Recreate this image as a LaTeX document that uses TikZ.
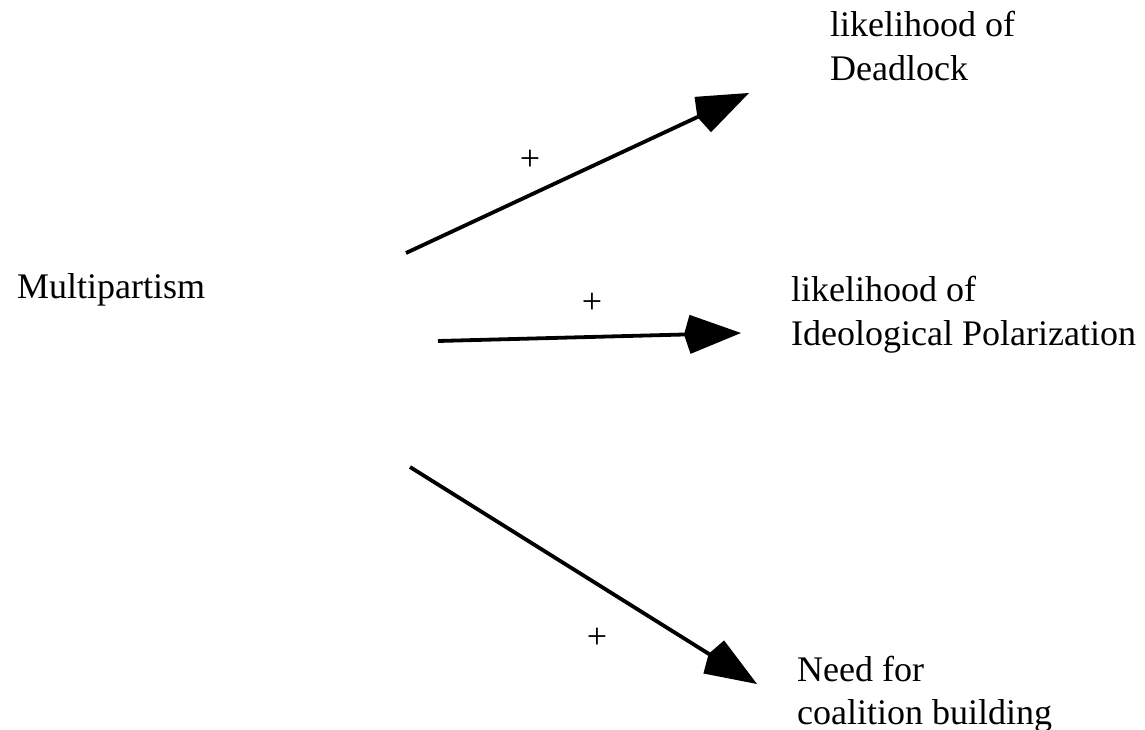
\documentclass[tikz,border=0pt]{standalone}
\usepackage{fontspec}
\setmainfont{Liberation Serif}
\usetikzlibrary{arrows.meta}
\tikzset{
  lbl/.style={anchor=base west, inner sep=0pt, align=left, font=\fontsize{36}{44}\selectfont},
  sign/.style={inner sep=0pt, font=\fontsize{36}{44}\selectfont},
  link/.style={line width=3.8pt, -{Kite[length=57pt, width=39pt, inset=6pt]}}
}
\begin{document}
\begin{tikzpicture}[x=1pt, y=-1pt]
\useasboundingbox (0,0) rectangle (1145,730);
\node[lbl] (multi) at (17,298) {Multipartism};
\node[lbl] (dead) at (830,81) {likelihood of\\Deadlock};
\node[lbl] (polar) at (791,345) {likelihood of\\Ideological Polarization};
\node[lbl, font=\fontsize{36}{43}\selectfont] (coal) at (797,724) {Need for\\coalition building};
\coordinate (s1) at (406,253);
\coordinate (t1) at (749,93);
\coordinate (s2) at (438,341);
\coordinate (t2) at (741,333);
\coordinate (s3) at (410,467);
\coordinate (t3) at (757,684);
\draw[link] (s1) -- (t1);
\draw[link] (s2) -- (t2);
\draw[link] (s3) -- (t3);
\node[sign] (p1) at (530,160) {+};
\node[sign] (p2) at (592,303) {+};
\node[sign] (p3) at (597,638) {+};
\end{tikzpicture}
\end{document}
